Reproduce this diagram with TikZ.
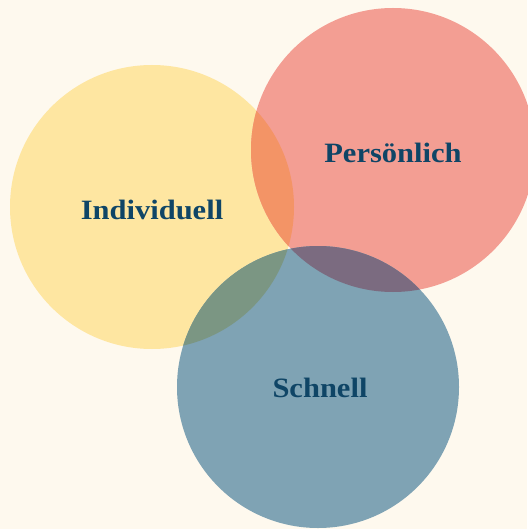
\documentclass[tikz,border=0pt]{standalone}
\usepackage{fontspec}
\setmainfont{Liberation Serif}
\definecolor{bg}{HTML}{FEF9EE}
\definecolor{cy}{HTML}{FEE6A1}
\definecolor{cr}{HTML}{F39E93}
\definecolor{cb}{HTML}{7FA3B4}
\definecolor{cyr}{HTML}{F39466}
\definecolor{crb}{HTML}{7B6B80}
\definecolor{cyb}{HTML}{7B9683}
\definecolor{txt}{HTML}{0F4566}
\tikzset{lbl/.style={text=txt,font=\fontsize{28}{32}\selectfont\bfseries,inner sep=0pt,xscale=1.09}}
\begin{document}
\begin{tikzpicture}[x=1pt,y=-1pt]
\useasboundingbox (0,0) rectangle (527,529);
\fill[bg] (0,0) rectangle (527,529);
\def\Y{(152,207) circle (142)}
\def\R{(393,150) circle (142)}
\def\B{(318,387) circle (141)}
\fill[cy] \Y;
\fill[cr] \R;
\fill[cb] \B;
\begin{scope}\clip \Y; \fill[cyr] \R; \end{scope}
\begin{scope}\clip \Y; \fill[cyb] \B; \end{scope}
\begin{scope}\clip \R; \fill[crb] \B; \end{scope}
\node[lbl] (ind) at (152,210) {Individuell};
\node[lbl] (per) at (393,153) {Persönlich};
\node[lbl] (sch) at (320,388) {Schnell};
\end{tikzpicture}
\end{document}
